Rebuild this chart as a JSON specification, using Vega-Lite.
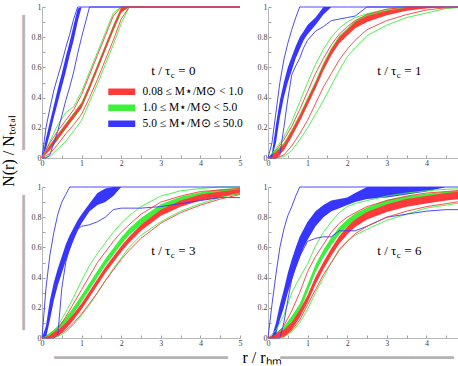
{
  "$schema": "https://vega.github.io/schema/vega-lite/v6.json",
  "padding": {"left": 0, "top": 3, "right": 0, "bottom": 0},
  "background": "white",
  "data": {"values": [
    {"p":0,"g":"r","x":0,"u":0,"h":0,"l":0,"d":0},
    {"p":0,"g":"r","x":0.2,"u":0.1,"h":0.085,"l":0.055,"d":0.03},
    {"p":0,"g":"r","x":0.4,"u":0.18,"h":0.155,"l":0.125,"d":0.09},
    {"p":0,"g":"r","x":0.6,"u":0.25,"h":0.225,"l":0.195,"d":0.16},
    {"p":0,"g":"r","x":0.8,"u":0.32,"h":0.295,"l":0.265,"d":0.22},
    {"p":0,"g":"r","x":1,"u":0.42,"h":0.365,"l":0.335,"d":0.29},
    {"p":0,"g":"r","x":1.2,"u":0.55,"h":0.485,"l":0.455,"d":0.4},
    {"p":0,"g":"r","x":1.4,"u":0.68,"h":0.615,"l":0.585,"d":0.52},
    {"p":0,"g":"r","x":1.6,"u":0.81,"h":0.745,"l":0.715,"d":0.65},
    {"p":0,"g":"r","x":1.8,"u":0.94,"h":0.875,"l":0.845,"d":0.78},
    {"p":0,"g":"r","x":2,"u":1,"h":0.995,"l":0.965,"d":0.92},
    {"p":0,"g":"r","x":2.2,"u":1,"h":1,"l":1,"d":1},
    {"p":0,"g":"r","x":5,"u":1,"h":1,"l":1,"d":1},
    {"p":0,"g":"g","x":0,"u":0,"h":0,"l":0,"d":0},
    {"p":0,"g":"g","x":0.2,"u":0.11,"h":0.09,"l":0.05,"d":0.01},
    {"p":0,"g":"g","x":0.4,"u":0.22,"h":0.16,"l":0.12,"d":0.06},
    {"p":0,"g":"g","x":0.6,"u":0.3,"h":0.23,"l":0.19,"d":0.11},
    {"p":0,"g":"g","x":0.8,"u":0.34,"h":0.3,"l":0.26,"d":0.18},
    {"p":0,"g":"g","x":1,"u":0.44,"h":0.37,"l":0.33,"d":0.25},
    {"p":0,"g":"g","x":1.2,"u":0.57,"h":0.49,"l":0.45,"d":0.37},
    {"p":0,"g":"g","x":1.4,"u":0.7,"h":0.62,"l":0.58,"d":0.49},
    {"p":0,"g":"g","x":1.6,"u":0.83,"h":0.75,"l":0.71,"d":0.62},
    {"p":0,"g":"g","x":1.8,"u":0.96,"h":0.88,"l":0.84,"d":0.75},
    {"p":0,"g":"g","x":2,"u":1,"h":1,"l":0.96,"d":0.89},
    {"p":0,"g":"g","x":2.2,"u":1,"h":1,"l":1,"d":1},
    {"p":0,"g":"g","x":5,"u":1,"h":1,"l":1,"d":1},
    {"p":0,"g":"b","x":0,"u":0,"h":0,"l":0,"d":0},
    {"p":0,"g":"b","x":0.1,"u":0.2,"h":0.13,"l":0.06,"d":0},
    {"p":0,"g":"b","x":0.2,"u":0.33,"h":0.24,"l":0.16,"d":0.02},
    {"p":0,"g":"b","x":0.3,"u":0.45,"h":0.35,"l":0.27,"d":0.1},
    {"p":0,"g":"b","x":0.4,"u":0.54,"h":0.46,"l":0.37,"d":0.18},
    {"p":0,"g":"b","x":0.5,"u":0.63,"h":0.56,"l":0.47,"d":0.28},
    {"p":0,"g":"b","x":0.6,"u":0.73,"h":0.67,"l":0.57,"d":0.38},
    {"p":0,"g":"b","x":0.7,"u":0.82,"h":0.77,"l":0.68,"d":0.47},
    {"p":0,"g":"b","x":0.8,"u":0.92,"h":0.88,"l":0.78,"d":0.57},
    {"p":0,"g":"b","x":0.9,"u":1,"h":0.99,"l":0.9,"d":0.69},
    {"p":0,"g":"b","x":1,"u":1,"h":1,"l":1,"d":0.8},
    {"p":0,"g":"b","x":1.2,"u":1,"h":1,"l":1,"d":1},
    {"p":0,"g":"b","x":5,"u":1,"h":1,"l":1,"d":1},

    {"p":1,"g":"r","x":0,"u":0,"h":0,"l":0,"d":0},
    {"p":1,"g":"r","x":0.2,"u":0.05,"h":0.04,"l":0,"d":0},
    {"p":1,"g":"r","x":0.4,"u":0.12,"h":0.09,"l":0.05,"d":0.02},
    {"p":1,"g":"r","x":0.6,"u":0.21,"h":0.18,"l":0.14,"d":0.08},
    {"p":1,"g":"r","x":0.8,"u":0.32,"h":0.28,"l":0.24,"d":0.16},
    {"p":1,"g":"r","x":1,"u":0.44,"h":0.39,"l":0.35,"d":0.25},
    {"p":1,"g":"r","x":1.2,"u":0.56,"h":0.5,"l":0.46,"d":0.36},
    {"p":1,"g":"r","x":1.4,"u":0.66,"h":0.62,"l":0.58,"d":0.47},
    {"p":1,"g":"r","x":1.6,"u":0.75,"h":0.72,"l":0.68,"d":0.56},
    {"p":1,"g":"r","x":1.8,"u":0.82,"h":0.8,"l":0.76,"d":0.65},
    {"p":1,"g":"r","x":2,"u":0.87,"h":0.85,"l":0.81,"d":0.72},
    {"p":1,"g":"r","x":2.2,"u":0.91,"h":0.9,"l":0.86,"d":0.78},
    {"p":1,"g":"r","x":2.5,"u":0.95,"h":0.94,"l":0.9,"d":0.85},
    {"p":1,"g":"r","x":3,"u":0.985,"h":0.975,"l":0.945,"d":0.91},
    {"p":1,"g":"r","x":3.5,"u":1,"h":0.995,"l":0.975,"d":0.95},
    {"p":1,"g":"r","x":4,"u":1,"h":1,"l":0.99,"d":0.98},
    {"p":1,"g":"r","x":4.5,"u":1,"h":1,"l":1,"d":0.995},
    {"p":1,"g":"r","x":5,"u":1,"h":1,"l":1,"d":1},
    {"p":1,"g":"g","x":0,"u":0,"h":0,"l":0,"d":0},
    {"p":1,"g":"g","x":0.2,"u":0.06,"h":0.05,"l":0.01,"d":0},
    {"p":1,"g":"g","x":0.4,"u":0.14,"h":0.1,"l":0.06,"d":0.01},
    {"p":1,"g":"g","x":0.6,"u":0.24,"h":0.19,"l":0.15,"d":0.05},
    {"p":1,"g":"g","x":0.8,"u":0.37,"h":0.29,"l":0.25,"d":0.12},
    {"p":1,"g":"g","x":1,"u":0.5,"h":0.4,"l":0.36,"d":0.2},
    {"p":1,"g":"g","x":1.2,"u":0.62,"h":0.51,"l":0.47,"d":0.29},
    {"p":1,"g":"g","x":1.4,"u":0.72,"h":0.63,"l":0.59,"d":0.38},
    {"p":1,"g":"g","x":1.6,"u":0.8,"h":0.73,"l":0.69,"d":0.48},
    {"p":1,"g":"g","x":1.8,"u":0.86,"h":0.81,"l":0.77,"d":0.58},
    {"p":1,"g":"g","x":2,"u":0.9,"h":0.86,"l":0.82,"d":0.67},
    {"p":1,"g":"g","x":2.2,"u":0.93,"h":0.91,"l":0.87,"d":0.73},
    {"p":1,"g":"g","x":2.5,"u":0.955,"h":0.95,"l":0.91,"d":0.81},
    {"p":1,"g":"g","x":3,"u":0.985,"h":0.98,"l":0.95,"d":0.88},
    {"p":1,"g":"g","x":3.5,"u":1,"h":1,"l":0.98,"d":0.93},
    {"p":1,"g":"g","x":4,"u":1,"h":1,"l":1,"d":0.96},
    {"p":1,"g":"g","x":4.5,"u":1,"h":1,"l":1,"d":0.99},
    {"p":1,"g":"g","x":5,"u":1,"h":1,"l":1,"d":1},
    {"p":1,"g":"b","x":0,"u":0,"h":0,"l":0,"d":0},
    {"p":1,"g":"b","x":0.1,"u":0.1,"h":0.03,"l":0,"d":0},
    {"p":1,"g":"b","x":0.2,"u":0.3,"h":0.22,"l":0.1,"d":0},
    {"p":1,"g":"b","x":0.3,"u":0.5,"h":0.38,"l":0.27,"d":0.02},
    {"p":1,"g":"b","x":0.4,"u":0.65,"h":0.5,"l":0.4,"d":0.2},
    {"p":1,"g":"b","x":0.5,"u":0.76,"h":0.6,"l":0.5,"d":0.39},
    {"p":1,"g":"b","x":0.6,"u":0.85,"h":0.67,"l":0.58,"d":0.55},
    {"p":1,"g":"b","x":0.7,"u":0.93,"h":0.74,"l":0.66,"d":0.61},
    {"p":1,"g":"b","x":0.8,"u":1,"h":0.8,"l":0.72,"d":0.66},
    {"p":1,"g":"b","x":0.9,"u":1,"h":0.84,"l":0.78,"d":0.73},
    {"p":1,"g":"b","x":1,"u":1,"h":0.88,"l":0.82,"d":0.78},
    {"p":1,"g":"b","x":1.2,"u":1,"h":0.93,"l":0.88,"d":0.84},
    {"p":1,"g":"b","x":1.4,"u":1,"h":1,"l":0.95,"d":0.87},
    {"p":1,"g":"b","x":1.6,"u":1,"h":1,"l":1,"d":0.91},
    {"p":1,"g":"b","x":1.8,"u":1,"h":1,"l":1,"d":0.92},
    {"p":1,"g":"b","x":2,"u":1,"h":1,"l":1,"d":0.93},
    {"p":1,"g":"b","x":2.2,"u":1,"h":1,"l":1,"d":0.94},
    {"p":1,"g":"b","x":2.5,"u":1,"h":1,"l":1,"d":1},
    {"p":1,"g":"b","x":5,"u":1,"h":1,"l":1,"d":1},

    {"p":2,"g":"r","x":0,"u":0,"h":0,"l":0,"d":0},
    {"p":2,"g":"r","x":0.2,"u":0.01,"h":0.025,"l":0,"d":0},
    {"p":2,"g":"r","x":0.4,"u":0.06,"h":0.05,"l":0.01,"d":0.02},
    {"p":2,"g":"r","x":0.6,"u":0.14,"h":0.1,"l":0.06,"d":0.05},
    {"p":2,"g":"r","x":0.8,"u":0.23,"h":0.16,"l":0.12,"d":0.1},
    {"p":2,"g":"r","x":1,"u":0.32,"h":0.23,"l":0.19,"d":0.16},
    {"p":2,"g":"r","x":1.2,"u":0.41,"h":0.31,"l":0.27,"d":0.23},
    {"p":2,"g":"r","x":1.4,"u":0.5,"h":0.39,"l":0.35,"d":0.3},
    {"p":2,"g":"r","x":1.6,"u":0.57,"h":0.47,"l":0.43,"d":0.38},
    {"p":2,"g":"r","x":1.8,"u":0.64,"h":0.54,"l":0.5,"d":0.45},
    {"p":2,"g":"r","x":2,"u":0.7,"h":0.61,"l":0.57,"d":0.52},
    {"p":2,"g":"r","x":2.2,"u":0.75,"h":0.67,"l":0.63,"d":0.58},
    {"p":2,"g":"r","x":2.5,"u":0.82,"h":0.75,"l":0.71,"d":0.66},
    {"p":2,"g":"r","x":3,"u":0.9,"h":0.85,"l":0.81,"d":0.76},
    {"p":2,"g":"r","x":3.5,"u":0.94,"h":0.91,"l":0.87,"d":0.83},
    {"p":2,"g":"r","x":4,"u":0.97,"h":0.95,"l":0.91,"d":0.88},
    {"p":2,"g":"r","x":4.5,"u":0.98,"h":0.97,"l":0.93,"d":0.92},
    {"p":2,"g":"r","x":5,"u":0.99,"h":0.985,"l":0.955,"d":0.95},
    {"p":2,"g":"g","x":0,"u":0,"h":0,"l":0,"d":0},
    {"p":2,"g":"g","x":0.2,"u":0.02,"h":0.035,"l":0,"d":0},
    {"p":2,"g":"g","x":0.4,"u":0.08,"h":0.075,"l":0.03,"d":0.01},
    {"p":2,"g":"g","x":0.6,"u":0.17,"h":0.135,"l":0.09,"d":0.04},
    {"p":2,"g":"g","x":0.8,"u":0.27,"h":0.205,"l":0.16,"d":0.09},
    {"p":2,"g":"g","x":1,"u":0.38,"h":0.285,"l":0.24,"d":0.15},
    {"p":2,"g":"g","x":1.2,"u":0.48,"h":0.365,"l":0.32,"d":0.22},
    {"p":2,"g":"g","x":1.4,"u":0.56,"h":0.445,"l":0.4,"d":0.3},
    {"p":2,"g":"g","x":1.6,"u":0.63,"h":0.525,"l":0.48,"d":0.38},
    {"p":2,"g":"g","x":1.8,"u":0.7,"h":0.595,"l":0.55,"d":0.46},
    {"p":2,"g":"g","x":2,"u":0.76,"h":0.665,"l":0.62,"d":0.53},
    {"p":2,"g":"g","x":2.2,"u":0.81,"h":0.725,"l":0.68,"d":0.6},
    {"p":2,"g":"g","x":2.5,"u":0.87,"h":0.795,"l":0.75,"d":0.68},
    {"p":2,"g":"g","x":3,"u":0.94,"h":0.885,"l":0.84,"d":0.77},
    {"p":2,"g":"g","x":3.5,"u":0.975,"h":0.935,"l":0.89,"d":0.84},
    {"p":2,"g":"g","x":4,"u":0.99,"h":0.965,"l":0.92,"d":0.89},
    {"p":2,"g":"g","x":4.5,"u":1,"h":0.985,"l":0.94,"d":0.93},
    {"p":2,"g":"g","x":5,"u":1,"h":0.995,"l":0.95,"d":0.96},
    {"p":2,"g":"b","x":0,"u":0,"h":0,"l":0,"d":0},
    {"p":2,"g":"b","x":0.1,"u":0.33,"h":0.08,"l":0,"d":0},
    {"p":2,"g":"b","x":0.2,"u":0.55,"h":0.25,"l":0.12,"d":0},
    {"p":2,"g":"b","x":0.3,"u":0.7,"h":0.37,"l":0.25,"d":0},
    {"p":2,"g":"b","x":0.4,"u":0.82,"h":0.46,"l":0.35,"d":0.02},
    {"p":2,"g":"b","x":0.5,"u":0.9,"h":0.54,"l":0.43,"d":0.33},
    {"p":2,"g":"b","x":0.6,"u":0.95,"h":0.62,"l":0.51,"d":0.5},
    {"p":2,"g":"b","x":0.7,"u":1,"h":0.68,"l":0.58,"d":0.6},
    {"p":2,"g":"b","x":0.8,"u":1,"h":0.73,"l":0.65,"d":0.66},
    {"p":2,"g":"b","x":0.9,"u":1,"h":0.78,"l":0.71,"d":0.72},
    {"p":2,"g":"b","x":1,"u":1,"h":0.82,"l":0.76,"d":0.74},
    {"p":2,"g":"b","x":1.2,"u":1,"h":0.89,"l":0.84,"d":0.75},
    {"p":2,"g":"b","x":1.4,"u":1,"h":0.96,"l":0.88,"d":0.77},
    {"p":2,"g":"b","x":1.6,"u":1,"h":0.99,"l":0.9,"d":0.8},
    {"p":2,"g":"b","x":1.8,"u":1,"h":1,"l":0.94,"d":0.85},
    {"p":2,"g":"b","x":2,"u":1,"h":1,"l":1,"d":0.86},
    {"p":2,"g":"b","x":2.5,"u":1,"h":1,"l":1,"d":0.86},
    {"p":2,"g":"b","x":3,"u":1,"h":1,"l":1,"d":0.87},
    {"p":2,"g":"b","x":3.5,"u":1,"h":1,"l":1,"d":0.89},
    {"p":2,"g":"b","x":4,"u":1,"h":1,"l":1,"d":0.91},
    {"p":2,"g":"b","x":4.5,"u":1,"h":1,"l":1,"d":0.93},
    {"p":2,"g":"b","x":5,"u":1,"h":1,"l":1,"d":0.93},

    {"p":3,"g":"r","x":0,"u":0,"h":0,"l":0,"d":0},
    {"p":3,"g":"r","x":0.2,"u":0.02,"h":0.03,"l":0,"d":0},
    {"p":3,"g":"r","x":0.4,"u":0.08,"h":0.055,"l":0.005,"d":0.01},
    {"p":3,"g":"r","x":0.6,"u":0.18,"h":0.105,"l":0.055,"d":0.05},
    {"p":3,"g":"r","x":0.8,"u":0.3,"h":0.185,"l":0.135,"d":0.12},
    {"p":3,"g":"r","x":1,"u":0.44,"h":0.285,"l":0.235,"d":0.22},
    {"p":3,"g":"r","x":1.2,"u":0.54,"h":0.405,"l":0.355,"d":0.32},
    {"p":3,"g":"r","x":1.4,"u":0.62,"h":0.505,"l":0.455,"d":0.42},
    {"p":3,"g":"r","x":1.6,"u":0.7,"h":0.595,"l":0.545,"d":0.5},
    {"p":3,"g":"r","x":1.8,"u":0.76,"h":0.675,"l":0.625,"d":0.58},
    {"p":3,"g":"r","x":2,"u":0.8,"h":0.735,"l":0.685,"d":0.64},
    {"p":3,"g":"r","x":2.2,"u":0.83,"h":0.785,"l":0.735,"d":0.69},
    {"p":3,"g":"r","x":2.5,"u":0.87,"h":0.835,"l":0.785,"d":0.74},
    {"p":3,"g":"r","x":3,"u":0.91,"h":0.885,"l":0.835,"d":0.8},
    {"p":3,"g":"r","x":3.5,"u":0.94,"h":0.92,"l":0.87,"d":0.84},
    {"p":3,"g":"r","x":4,"u":0.96,"h":0.94,"l":0.89,"d":0.87},
    {"p":3,"g":"r","x":4.5,"u":0.97,"h":0.96,"l":0.91,"d":0.89},
    {"p":3,"g":"r","x":5,"u":0.98,"h":0.975,"l":0.925,"d":0.91},
    {"p":3,"g":"g","x":0,"u":0,"h":0,"l":0,"d":0},
    {"p":3,"g":"g","x":0.2,"u":0.05,"h":0.035,"l":0,"d":0},
    {"p":3,"g":"g","x":0.4,"u":0.15,"h":0.075,"l":0.025,"d":0.01},
    {"p":3,"g":"g","x":0.6,"u":0.3,"h":0.145,"l":0.095,"d":0.04},
    {"p":3,"g":"g","x":0.8,"u":0.4,"h":0.225,"l":0.175,"d":0.1},
    {"p":3,"g":"g","x":1,"u":0.49,"h":0.355,"l":0.305,"d":0.19},
    {"p":3,"g":"g","x":1.2,"u":0.61,"h":0.485,"l":0.435,"d":0.3},
    {"p":3,"g":"g","x":1.4,"u":0.7,"h":0.585,"l":0.535,"d":0.4},
    {"p":3,"g":"g","x":1.6,"u":0.77,"h":0.665,"l":0.615,"d":0.5},
    {"p":3,"g":"g","x":1.8,"u":0.83,"h":0.735,"l":0.685,"d":0.59},
    {"p":3,"g":"g","x":2,"u":0.87,"h":0.785,"l":0.735,"d":0.64},
    {"p":3,"g":"g","x":2.2,"u":0.89,"h":0.825,"l":0.775,"d":0.68},
    {"p":3,"g":"g","x":2.5,"u":0.91,"h":0.865,"l":0.815,"d":0.72},
    {"p":3,"g":"g","x":3,"u":0.94,"h":0.915,"l":0.865,"d":0.78},
    {"p":3,"g":"g","x":3.5,"u":0.96,"h":0.94,"l":0.89,"d":0.82},
    {"p":3,"g":"g","x":4,"u":0.975,"h":0.955,"l":0.905,"d":0.86},
    {"p":3,"g":"g","x":4.5,"u":0.985,"h":0.97,"l":0.92,"d":0.88},
    {"p":3,"g":"g","x":5,"u":0.99,"h":0.985,"l":0.935,"d":0.9},
    {"p":3,"g":"b","x":0,"u":0,"h":0,"l":0,"d":0},
    {"p":3,"g":"b","x":0.1,"u":0.22,"h":0.01,"l":0,"d":0},
    {"p":3,"g":"b","x":0.2,"u":0.42,"h":0.1,"l":0.02,"d":0},
    {"p":3,"g":"b","x":0.3,"u":0.6,"h":0.22,"l":0.12,"d":0},
    {"p":3,"g":"b","x":0.4,"u":0.72,"h":0.32,"l":0.2,"d":0.1},
    {"p":3,"g":"b","x":0.5,"u":0.81,"h":0.43,"l":0.3,"d":0.25},
    {"p":3,"g":"b","x":0.6,"u":0.87,"h":0.52,"l":0.38,"d":0.39},
    {"p":3,"g":"b","x":0.7,"u":0.94,"h":0.6,"l":0.46,"d":0.47},
    {"p":3,"g":"b","x":0.8,"u":1,"h":0.67,"l":0.53,"d":0.54},
    {"p":3,"g":"b","x":0.9,"u":1,"h":0.72,"l":0.6,"d":0.59},
    {"p":3,"g":"b","x":1,"u":1,"h":0.77,"l":0.65,"d":0.64},
    {"p":3,"g":"b","x":1.2,"u":1,"h":0.84,"l":0.74,"d":0.66},
    {"p":3,"g":"b","x":1.4,"u":1,"h":0.88,"l":0.8,"d":0.67},
    {"p":3,"g":"b","x":1.6,"u":1,"h":0.91,"l":0.84,"d":0.67},
    {"p":3,"g":"b","x":1.8,"u":1,"h":0.92,"l":0.86,"d":0.71},
    {"p":3,"g":"b","x":2,"u":1,"h":0.93,"l":0.88,"d":0.71},
    {"p":3,"g":"b","x":2.2,"u":1,"h":0.96,"l":0.9,"d":0.71},
    {"p":3,"g":"b","x":2.5,"u":1,"h":1,"l":0.92,"d":0.74},
    {"p":3,"g":"b","x":3,"u":1,"h":1,"l":0.93,"d":0.8},
    {"p":3,"g":"b","x":3.5,"u":1,"h":1,"l":0.95,"d":0.82},
    {"p":3,"g":"b","x":4,"u":1,"h":1,"l":0.97,"d":0.84},
    {"p":3,"g":"b","x":4.5,"u":1,"h":1,"l":1,"d":0.85},
    {"p":3,"g":"b","x":5,"u":1,"h":1,"l":1,"d":0.85},

    {"p":0,"t":"= 0"},
    {"p":1,"t":"= 1"},
    {"p":2,"t":"= 3"},
    {"p":3,"t":"= 6"}
  ]},
  "transform": [
    {"calculate": "datum.p < 2 ? 'a' : 'b'", "as": "rw"},
    {"calculate": "datum.p % 2 === 0 ? 'L' : 'R'", "as": "cl"}
  ],
  "facet": {
    "row": {"field": "rw", "type": "nominal", "header": {
      "title": "⠀⠀⠀⠀N(r) / Nₜₒₜₐₗ", "titleFont": "Liberation Serif", "titleFontSize": 16, "titleFontWeight": "normal", "titleColor": "black",
      "titleOrient": "left", "titlePadding": -12,
      "labelOrient": "left", "labelAngle": -90, "labelFont": "DejaVu Sans", "labelFontSize": 16, "labelColor": "#b4b4b4", "labelPadding": 2,
      "labelExpr": "datum.value === 'a' ? '\u00a0\u00a0\u00a0\u00a0\u00a0\u00a0\u00a0\u00a0━━━━━━━━━━━━━━' : '━━━━━━━━━━━━━━\u00a0\u00a0\u00a0'"
    }},
    "column": {"field": "cl", "type": "nominal", "header": {
      "title": "⠀⠀r / rₕₘ", "titleFont": "Liberation Serif", "titleFontSize": 16, "titleFontWeight": "normal", "titleColor": "black",
      "titleOrient": "bottom", "titlePadding": -26,
      "labelOrient": "bottom", "labelFont": "DejaVu Sans", "labelFontSize": 16, "labelColor": "#b4b4b4", "labelPadding": 12,
      "labelExpr": "datum.value === 'L' ? '\u00a0\u00a0\u00a0\u00a0━━━━━━━━━━━━━━━━━━' : '\u00a0\u00a0\u00a0\u00a0\u00a0\u00a0\u00a0━━━━━━━━━━━━━━━━━━'"
    }}
  },
  "spacing": {"row": 29, "column": 28},
  "bounds": "flush",
  "resolve": {"axis": {"x": "independent", "y": "independent"}},
  "spec": {
    "width": 198,
    "height": 151,
    "layer": [
      {"transform": [{"filter": "datum.g === 'g'"}], "mark": {"type": "area", "opacity": 1},
       "encoding": {
         "x": {"field": "x", "type": "quantitative", "scale": {"domain": [0, 5], "nice": false},
           "axis": {"values": [0,0.5,1,1.5,2,2.5,3,3.5,4,4.5,5], "tickCount": 30, "format": "~g", "labelExpr": "datum.value % 1 === 0 ? datum.label : ''", "labelFlush": false, "labelOverlap": false}},
         "y": {"field": "h", "type": "quantitative", "scale": {"domain": [0, 1], "nice": false},
           "axis": {"values": [0,0.1,0.2,0.3,0.4,0.5,0.6,0.7,0.8,0.9,1], "tickCount": 30, "format": "~g", "labelExpr": "round(datum.value * 10) % 2 === 0 ? datum.label : ''", "labelOverlap": false, "labelFlush": false}},
         "y2": {"field": "l"},
         "color": {"field": "g", "type": "nominal", "scale": {"domain": ["r", "g", "b"], "range": ["#ff3a3a", "#3cf03c", "#3636ff"]},
           "legend": {"orient": "none", "legendX": 74, "legendY": 79, "title": null, "symbolType": "M-2.7,-0.65H2.7V0.65H-2.7Z", "symbolSize": 100, "symbolStrokeWidth": 0, "symbolOpacity": 1,
             "labelFont": "Liberation Serif", "labelFontSize": 11.5, "labelColor": "black", "labelOffset": 15, "rowPadding": 3,
             "labelExpr": "datum.value === 'r' ? '0.08 ≤ M⋆/M⊙ < 1.0' : datum.value === 'g' ? '1.0 ≤ M⋆/M⊙ < 5.0' : '5.0 ≤ M⋆/M⊙ ≤ 50.0'"}}
       }},
      {"transform": [{"filter": "datum.g === 'r'"}], "mark": {"type": "area", "opacity": 1},
       "encoding": {"x": {"field": "x", "type": "quantitative"}, "y": {"field": "h", "type": "quantitative"}, "y2": {"field": "l"}, "color": {"field": "g", "type": "nominal"}}},
      {"transform": [{"filter": "datum.g === 'b'"}], "mark": {"type": "area", "opacity": 1},
       "encoding": {"x": {"field": "x", "type": "quantitative"}, "y": {"field": "h", "type": "quantitative"}, "y2": {"field": "l"}, "color": {"field": "g", "type": "nominal"}}},
      {"transform": [{"filter": "datum.g === 'g'"}, {"fold": ["u", "d"], "as": ["k", "v"]}], "mark": {"type": "line", "strokeWidth": 0.9},
       "encoding": {"x": {"field": "x", "type": "quantitative"}, "y": {"field": "v", "type": "quantitative"}, "color": {"field": "g", "type": "nominal"}, "detail": {"field": "k"}}},
      {"transform": [{"filter": "datum.g === 'b'"}, {"fold": ["u", "d"], "as": ["k", "v"]}], "mark": {"type": "line", "strokeWidth": 0.9},
       "encoding": {"x": {"field": "x", "type": "quantitative"}, "y": {"field": "v", "type": "quantitative"}, "color": {"field": "g", "type": "nominal"}, "detail": {"field": "k"}}},
      {"transform": [{"filter": "datum.g === 'r'"}, {"fold": ["u", "d"], "as": ["k", "v"]}], "mark": {"type": "line", "strokeWidth": 0.9},
       "encoding": {"x": {"field": "x", "type": "quantitative"}, "y": {"field": "v", "type": "quantitative"}, "color": {"field": "g", "type": "nominal"}, "detail": {"field": "k"}}},
      {"transform": [{"filter": "isValid(datum.t)"}], "mark": {"type": "text", "font": "Liberation Serif", "fontSize": 13, "align": "right", "baseline": "alphabetic", "color": "black"},
       "encoding": {"x": {"datum": 3.24, "type": "quantitative"}, "y": {"datum": 0.55, "type": "quantitative"}, "text": {"value": "t / τ"}}},
      {"transform": [{"filter": "isValid(datum.t)"}], "mark": {"type": "text", "font": "Liberation Serif", "fontSize": 9, "align": "left", "baseline": "alphabetic", "dx": 0.5, "dy": 3, "color": "black"},
       "encoding": {"x": {"datum": 3.24, "type": "quantitative"}, "y": {"datum": 0.55, "type": "quantitative"}, "text": {"value": "c"}}},
      {"transform": [{"filter": "isValid(datum.t)"}], "mark": {"type": "text", "font": "Liberation Serif", "fontSize": 13, "align": "left", "baseline": "alphabetic", "dx": 8, "color": "black"},
       "encoding": {"x": {"datum": 3.24, "type": "quantitative"}, "y": {"datum": 0.55, "type": "quantitative"}, "text": {"field": "t"}}}
    ]
  },
  "config": {
    "font": "Liberation Serif",
    "view": {"stroke": null},
    "legend": {"labelFont": "Liberation Serif", "labelFontSize": 11.5, "labelColor": "black"},
    "axis": {"title": null, "grid": false, "domainColor": "#b8b8b8", "domainWidth": 1, "tickColor": "#a0a0a0", "tickSize": -3, "tickWidth": 1,
      "labelFont": "Liberation Serif", "labelFontSize": 8, "labelColor": "#444444", "labelPadding": 4, "labelOverlap": false}
  }
}
